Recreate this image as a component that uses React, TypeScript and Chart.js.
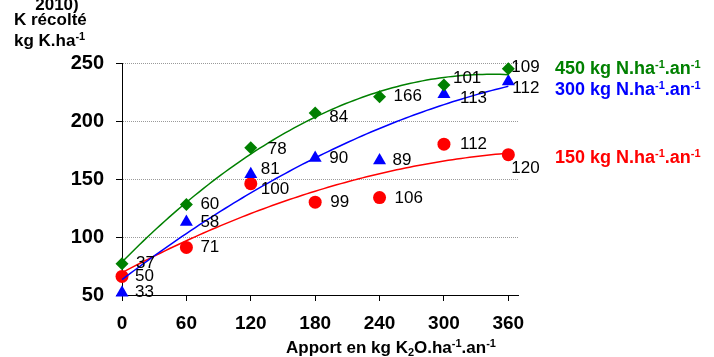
import React, { useEffect, useRef } from 'react';
import { Chart, registerables } from 'chart.js';

Chart.register(...registerables);

// ---- data ----
const doses = [0, 60, 120, 180, 240, 300, 360];
const yieldN450 = [77, 128, 177, 207, 221, 231, 245];
const yieldN300 = [52, 113, 154, 168, 166, 223, 234];
const yieldN150 = [66, 91, 146, 130, 134, 180, 171];
const labelsN450 = ['37', '60', '78', '84', '166', '101', '109'];
const labelsN300 = ['33', '58', '81', '90', '89', '113', '112'];
const labelsN150 = ['50', '71', '100', '99', '106', '112', '120'];
const xTickValues = [0, 60, 120, 180, 240, 300, 360];
const yTickValues = [50, 100, 150, 200, 250];
const nitrogenRates = ['450', '300', '150'];

// ---- label placement (px offsets from each marker) ----
const offsetsN450 = [[14, 0], [14, 0], [17, 2], [14, 4], [14, 0], [9, -7], [3, -1]];
const offsetsN300 = [[13, 0], [14, 0], [10, -5], [14, 0], [13, 0], [16, 4], [4, 7]];
const offsetsN150 = [[13, 0], [14, 0], [10, 6], [15, 0], [15, 1], [16, 0], [3, 14]];

const FONT = '"Liberation Sans", Arial, Helvetica, sans-serif';

const series = [
  { values: yieldN450, labels: labelsN450, offsets: offsetsN450, color: '#008000', style: 'rectRot', radius: 6.5, legendY: 73.5 },
  { values: yieldN300, labels: labelsN300, offsets: offsetsN300, color: '#0000FF', style: 'triangle', radius: 7.5, legendY: 95 },
  { values: yieldN150, labels: labelsN150, offsets: offsetsN150, color: '#FF0000', style: 'circle', radius: 6.5, legendY: 163 },
];

// least-squares 2nd order polynomial trendline (as in the spreadsheet)
function quadFit(xs: number[], ys: number[]) {
  const s = [0, 0, 0, 0, 0];
  const t = [0, 0, 0];
  xs.forEach((x, i) => {
    let p = 1;
    for (let k = 0; k < 5; k++) {
      s[k] += p;
      if (k < 3) t[k] += ys[i] * p;
      p *= x;
    }
  });
  const A = [
    [s[0], s[1], s[2], t[0]],
    [s[1], s[2], s[3], t[1]],
    [s[2], s[3], s[4], t[2]],
  ];
  for (let c = 0; c < 3; c++) {
    for (let r = c + 1; r < 3; r++) {
      const f = A[r][c] / A[c][c];
      for (let k = c; k < 4; k++) A[r][k] -= f * A[c][k];
    }
  }
  const coef = [0, 0, 0];
  for (let r = 2; r >= 0; r--) {
    let v = A[r][3];
    for (let k = r + 1; k < 3; k++) v -= A[r][k] * coef[k];
    coef[r] = v / A[r][r];
  }
  return (x: number) => coef[0] + coef[1] * x + coef[2] * x * x;
}

type Seg = [string, number];

function drawRich(ctx: CanvasRenderingContext2D, segs: Seg[], x: number, y: number, size: number, color: string, align: 'left' | 'center') {
  ctx.save();
  ctx.fillStyle = color;
  ctx.textBaseline = 'alphabetic';
  ctx.textAlign = 'left';
  const fontFor = (k: number) => `bold ${k === 0 ? size : Math.round(size * 0.62)}px ${FONT}`;
  let w = 0;
  segs.forEach(([txt, k]) => {
    ctx.font = fontFor(k);
    w += ctx.measureText(txt).width;
  });
  let cx = align === 'center' ? x - w / 2 : x;
  segs.forEach(([txt, k]) => {
    ctx.font = fontFor(k);
    const dy = k === 1 ? -size * 0.33 : k === -1 ? size * 0.2 : 0;
    ctx.fillText(txt, cx, y + dy);
    cx += ctx.measureText(txt).width;
  });
  ctx.restore();
}

const decorPlugin = {
  id: 'decor',
  beforeDatasetsDraw(chart: any) {
    const { ctx, chartArea, scales } = chart;
    ctx.save();
    ctx.strokeStyle = '#9a9a9a';
    ctx.lineWidth = 1;
    ctx.setLineDash([1, 1]);
    yTickValues.forEach((v) => {
      if (v === scales.y.min) return;
      const y = Math.round(scales.y.getPixelForValue(v)) + 0.5;
      ctx.beginPath();
      ctx.moveTo(chartArea.left + 1, y);
      ctx.lineTo(chartArea.right, y);
      ctx.stroke();
    });
    ctx.restore();
  },
  afterDatasetsDraw(chart: any) {
    const { ctx } = chart;
    ctx.save();
    ctx.font = `17px ${FONT}`;
    ctx.fillStyle = '#000';
    ctx.textAlign = 'left';
    ctx.textBaseline = 'middle';
    series.forEach((s, si) => {
      const meta = chart.getDatasetMeta(3 + si);
      meta.data.forEach((pt: any, j: number) => {
        const [dx, dy] = s.offsets[j];
        ctx.fillText(s.labels[j], pt.x + dx, pt.y + dy);
      });
    });
    ctx.restore();
  },
  afterDraw(chart: any) {
    const { ctx } = chart;
    // y-axis title (top line cut off by the frame)
    drawRich(ctx, [['2010)', 0]], 57, 9.5, 17, '#000', 'center');
    drawRich(ctx, [['K récolté', 0]], 14, 25, 17, '#000', 'left');
    drawRich(ctx, [['kg K.ha', 0], ['-1', 1]], 14, 46, 17, '#000', 'left');
    // x-axis title
    drawRich(ctx, [['Apport en kg K', 0], ['2', -1], ['O.ha', 0], ['-1', 1], ['.an', 0], ['-1', 1]], 391, 353, 17, '#000', 'center');
    // series labels
    series.forEach((s, si) => {
      drawRich(ctx, [[`${nitrogenRates[si]} kg N.ha`, 0], ['-1', 1], ['.an', 0], ['-1', 1]], 555, s.legendY, 18, s.color, 'left');
    });
  },
};

export default function App() {
  const ref = useRef<HTMLCanvasElement | null>(null);
  useEffect(() => {
    if (!ref.current) return;
    const trendDatasets = series.map((s) => {
      const f = quadFit(doses, s.values);
      const pts: { x: number; y: number }[] = [];
      for (let x = doses[0]; x <= doses[doses.length - 1]; x += 4) pts.push({ x, y: f(x) });
      return {
        type: 'line' as const,
        data: pts,
        borderColor: s.color,
        borderWidth: 1.5,
        pointRadius: 0,
        fill: false,
        tension: 0,
        order: 0,
        clip: false as any,
      };
    });
    const pointDatasets = series.map((s) => ({
      type: 'scatter' as const,
      data: doses.map((x, i) => ({ x, y: s.values[i] })),
      backgroundColor: s.color,
      borderColor: s.color,
      borderWidth: 0,
      pointStyle: s.style,
      pointRadius: s.radius,
      order: 1,
      clip: false as any,
    }));
    const chart = new Chart(ref.current, {
      type: 'scatter',
      data: { datasets: [...trendDatasets, ...pointDatasets] as any },
      options: {
        responsive: false,
        animation: false,
        devicePixelRatio: 1,
        layout: { padding: { left: 0, top: 63, right: 196, bottom: 0 } },
        plugins: { legend: { display: false }, tooltip: { enabled: false } },
        scales: {
          x: {
            type: 'linear',
            min: 0,
            max: 369,
            afterBuildTicks: (scale: any) => {
              scale.ticks = xTickValues.map((v) => ({ value: v }));
            },
            afterFit: (scale: any) => {
              scale.height = 62;
            },
            grid: { drawOnChartArea: false, drawTicks: true, tickLength: 6, color: '#000', lineWidth: 1 },
            border: { display: true, color: '#000', width: 1 },
            ticks: { color: '#000', font: { family: FONT, size: 19, weight: 'bold' }, padding: 11, maxRotation: 0, autoSkip: false },
          },
          y: {
            type: 'linear',
            min: 50,
            max: 250,
            afterBuildTicks: (scale: any) => {
              scale.ticks = yTickValues.map((v) => ({ value: v }));
            },
            afterFit: (scale: any) => {
              scale.width = 122;
            },
            grid: { drawOnChartArea: false, drawTicks: true, tickLength: 6, color: '#000', lineWidth: 1 },
            border: { display: true, color: '#000', width: 1 },
            ticks: { color: '#000', font: { family: FONT, size: 20, weight: 'bold' }, padding: 12 },
          },
        },
      } as any,
      plugins: [decorPlugin],
    });
    return () => chart.destroy();
  }, []);
  return (
    <div style={{ position: 'fixed', left: 0, top: 0, width: 714, height: 357, background: '#fff' }}>
      <canvas ref={ref} width={714} height={357} style={{ width: 714, height: 357, display: 'block' }} />
    </div>
  );
}
